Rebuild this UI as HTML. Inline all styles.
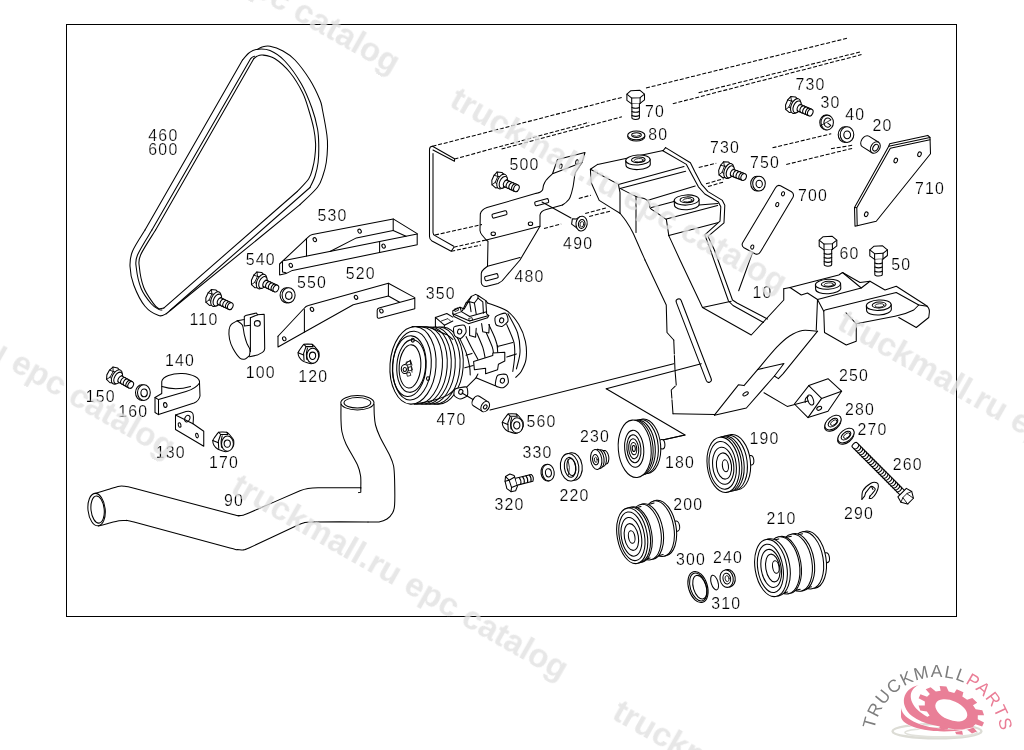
<!DOCTYPE html>
<html><head><meta charset="utf-8"><title>EPC catalog</title>
<style>
html,body{margin:0;padding:0;background:#fff;}
body{width:1024px;height:750px;overflow:hidden;font-family:"Liberation Sans",sans-serif;}
svg{display:block;}
.k path,.k line,.k ellipse,.k polygon,.k rect,.k circle{fill:none;stroke:#000;stroke-width:1.05;stroke-linecap:round;stroke-linejoin:round;}
.k .w{fill:#fff;}
.k .d{stroke-dasharray:4 1.8;stroke-linecap:butt;}
.k .t{stroke-width:.8;}
.lb text{font-family:"Liberation Sans",sans-serif;font-size:15.9px;letter-spacing:1.25px;fill:#000;stroke:#fff;stroke-width:0.22px;}
.wm text{text-rendering:geometricPrecision;font-family:"Liberation Sans",sans-serif;font-weight:bold;font-size:33px;fill:#e1e1e1;}
</style></head><body>
<svg width="1024" height="750" viewBox="0 0 1024 750">
<rect width="1024" height="750" fill="#fff"/>
<!-- 00_open.py -->
<g class="k">
<rect x="66.5" y="24.5" width="890" height="592" style="stroke-width:1" shape-rendering="crispEdges"/>
<!-- 05_syms.py -->
<!-- 10_belt.py -->
<path d="M145,230 L242.5,60"/>
<path d="M242.50,60.00 C243.58,58.83 246.71,54.77 249.00,53.00 C251.29,51.23 252.75,49.80 256.25,49.40 C259.75,49.00 265.21,48.62 270.00,50.60 C274.79,52.58 279.79,55.73 285.00,61.25 C290.21,66.78 296.77,75.96 301.25,83.75 C305.73,91.54 309.19,100.50 311.90,108.00 C314.61,115.50 316.36,122.58 317.50,128.75 C318.64,134.92 318.65,139.38 318.75,145.00 C318.85,150.62 318.73,157.29 318.10,162.50 C317.48,167.71 316.35,172.08 315.00,176.25 C313.65,180.42 310.83,185.62 310.00,187.50"/>
<path d="M310,187.5 L170,310.5"/>
<path d="M145.00,230.00 C142.92,233.54 135.00,245.21 132.50,251.25 C130.00,257.29 129.79,260.62 130.00,266.25 C130.21,271.88 131.25,278.33 133.75,285.00 C136.25,291.67 140.83,301.15 145.00,306.25 C149.17,311.35 155.21,314.35 158.75,315.60 C162.29,316.85 165.00,314.06 166.25,313.75"/>
<path d="M166.25,313.75 L300,204.7"/>
<path d="M300.00,204.70 C302.92,201.78 313.65,192.15 317.50,187.20 C321.35,182.25 321.64,179.12 323.10,175.00 C324.56,170.88 325.52,167.08 326.25,162.50 C326.98,157.92 327.39,152.08 327.50,147.50 C327.61,142.92 327.73,141.25 326.90,135.00 C326.07,128.75 323.65,115.83 322.50,110.00 C321.35,104.17 322.08,105.00 320.00,100.00 C317.92,95.00 314.17,86.67 310.00,80.00 C305.83,73.33 299.50,64.83 295.00,60.00 C290.50,55.17 287.17,53.29 283.00,51.00 C278.83,48.71 273.50,46.92 270.00,46.25 C266.50,45.58 264.08,46.48 262.00,47.00 C259.92,47.52 258.25,49.00 257.50,49.40"/>
<path d="M253.75,58.75 C254.29,58.34 255.54,56.92 257.00,56.30 C258.46,55.67 259.50,54.59 262.50,55.00 C265.50,55.41 270.42,55.83 275.00,58.75 C279.58,61.67 285.42,66.88 290.00,72.50 C294.58,78.12 299.38,86.25 302.50,92.50 C305.62,98.75 306.88,103.96 308.75,110.00 C310.62,116.04 312.61,123.12 313.75,128.75 C314.89,134.38 315.43,138.96 315.60,143.75 C315.77,148.54 315.27,153.33 314.75,157.50 C314.23,161.67 313.50,165.21 312.50,168.75 C311.50,172.29 311.25,175.00 308.75,178.75 C306.25,182.50 299.38,189.17 297.50,191.25"/>
<path d="M297.5,191.25 L163.75,308.1"/>
<path d="M163.75,308.10 C162.88,308.17 160.28,309.33 158.50,308.50 C156.72,307.67 155.56,306.60 153.10,303.10 C150.64,299.60 146.03,293.43 143.75,287.50 C141.47,281.57 139.93,272.92 139.40,267.50 C138.88,262.08 137.90,261.25 140.60,255.00 C143.30,248.75 153.10,234.17 155.60,230.00"/>
<path d="M155.6,230 L253.75,58.75"/>
<path d="M162.00,310.00 C161.46,309.90 160.54,310.44 158.75,309.40 C156.96,308.36 154.17,307.19 151.25,303.75 C148.33,300.31 143.75,294.79 141.25,288.75 C138.75,282.71 136.88,273.12 136.25,267.50 C135.62,261.88 134.89,261.25 137.50,255.00 C140.11,248.75 149.50,234.17 151.90,230.00"/>
<path d="M151.9,230 L250.7,58.6 Q252,56.6 254.6,56.2"/>
<!-- 20_brackets.py -->
<path d="M279.6,264 L308.4,236.8 Q310,234.9 312.4,234.4 L393.2,218.9 L417.2,233.6 L417.2,244.8 L292.4,270.4 L286,273.6 L279.6,274.9Z"/>
<path d="M282.5,261.6 L282.5,272 L286,272.8"/>
<path d="M284.4,260.5 L417.2,234.1"/>
<path d="M393.2,218.9 L393.2,230.4 L406,236.3"/>
<path d="M393.2,230.4 L356.4,237.9 L330,251.5"/>
<path d="M379.6,241.6 L379.6,252.5"/>
<path d="M306.5,238.4 L306.5,256"/>
<ellipse cx="314.80" cy="239.70" rx="1.61" ry="2.09" transform="rotate(-25.0 314.80 239.70)"/>
<ellipse cx="359.60" cy="231.20" rx="1.61" ry="2.09" transform="rotate(-25.0 359.60 231.20)"/>
<ellipse cx="290.80" cy="265.30" rx="1.61" ry="2.09" transform="rotate(-25.0 290.80 265.30)"/>
<ellipse cx="383.60" cy="246.10" rx="1.61" ry="2.09" transform="rotate(-25.0 383.60 246.10)"/>
<path d="M278,336.25 L303.75,308.75 Q306,306 308.4,305.6 L388.4,283.2 L414.8,297.6 L414.8,308.8 L379,318.2 Q377.2,318.6 377.2,316.5 L377.2,310.2 Q377.2,308.6 379,308 L414.8,298.2"/>
<path d="M388.4,296 L353.2,304.8 L303.75,332.5 L278,347 L278,336.25"/>
<path d="M388.4,283.2 L388.4,296 L399.6,302.2"/>
<path d="M304.4,309.5 L304.4,332"/>
<ellipse cx="284.25" cy="338.75" rx="1.61" ry="2.09" transform="rotate(-25.0 284.25 338.75)"/>
<ellipse cx="312.00" cy="309.40" rx="1.61" ry="2.09" transform="rotate(-25.0 312.00 309.40)"/>
<ellipse cx="356.00" cy="297.30" rx="1.61" ry="2.09" transform="rotate(-25.0 356.00 297.30)"/>
<ellipse cx="381.40" cy="311.00" rx="1.61" ry="2.09" transform="rotate(-25.0 381.40 311.00)"/>
<g transform="translate(258.60 280.20) rotate(25.0) scale(1.000)"><path d="M-6.5,-2.5 L-5,-6.8 L-0.5,-8.3 L3,-7 L3,6.6 L0,8.4 L-4.6,7 L-6.5,3Z" class="w"/><path d="M-5,-6.8 L-2.6,-3 L-2.6,3.6 L-4.6,7 M-2.6,-3 L3,-4.6 M-2.6,3.6 L3,5 M-6.5,-2.5 L-2.6,-3" class="t"/><ellipse cx="3.20" cy="0.00" rx="4.50" ry="7.80" class="w"/><ellipse cx="4.90" cy="0.20" rx="3.70" ry="6.30" class="w"/><path d="M6.5,-3.3 L19.2,-3.3 M6.5,3.8 L19.2,3.8"/><ellipse cx="8.00" cy="0.25" rx="2.60" ry="3.60" class="w"/><ellipse cx="11.03" cy="0.25" rx="2.60" ry="3.60" class="w"/><ellipse cx="14.05" cy="0.25" rx="2.60" ry="3.60" class="w"/><ellipse cx="17.07" cy="0.25" rx="2.60" ry="3.60" class="w"/><ellipse cx="19.20" cy="0.25" rx="2.60" ry="3.60" class="w"/></g>
<g transform="translate(213.00 297.80) rotate(25.0) scale(1.000)"><path d="M-6.5,-2.5 L-5,-6.8 L-0.5,-8.3 L3,-7 L3,6.6 L0,8.4 L-4.6,7 L-6.5,3Z" class="w"/><path d="M-5,-6.8 L-2.6,-3 L-2.6,3.6 L-4.6,7 M-2.6,-3 L3,-4.6 M-2.6,3.6 L3,5 M-6.5,-2.5 L-2.6,-3" class="t"/><ellipse cx="3.20" cy="0.00" rx="4.50" ry="7.80" class="w"/><ellipse cx="4.90" cy="0.20" rx="3.70" ry="6.30" class="w"/><path d="M6.5,-3.3 L19.2,-3.3 M6.5,3.8 L19.2,3.8"/><ellipse cx="8.00" cy="0.25" rx="2.60" ry="3.60" class="w"/><ellipse cx="11.03" cy="0.25" rx="2.60" ry="3.60" class="w"/><ellipse cx="14.05" cy="0.25" rx="2.60" ry="3.60" class="w"/><ellipse cx="17.07" cy="0.25" rx="2.60" ry="3.60" class="w"/><ellipse cx="19.20" cy="0.25" rx="2.60" ry="3.60" class="w"/></g>
<g transform="translate(288.60 295.30) rotate(0.0)"><ellipse cx="-2.00" cy="0.00" rx="6.50" ry="7.60" class="w"/><ellipse cx="0.00" cy="0.00" rx="6.50" ry="7.60" class="w"/><ellipse cx="0.20" cy="0.30" rx="3.25" ry="3.80"/></g>
<g transform="translate(308.50 353.70) rotate(0.0)"><path d="M-10.40,-1.04 C-10.37,-1.60 -9.28,-3.22 -8.84,-3.85 C-8.40,-4.47 -5.40,-8.95 -4.47,-9.36 C-3.54,-9.77 2.73,-9.53 3.54,-9.36 C4.34,-9.19 5.73,-7.66 6.24,-7.07 C6.75,-6.48 10.09,-2.26 10.40,-1.46 C10.71,-0.65 10.65,2.95 10.40,3.64 C10.15,4.33 7.65,7.21 7.07,7.70 C6.49,8.18 3.62,10.09 2.70,10.09 C1.78,10.09 -4.30,8.18 -5.20,7.70 C-6.10,7.21 -8.87,4.30 -9.26,3.64 C-9.65,2.98 -10.43,-0.48 -10.40,-1.04Z" class="w"/><path d="M-4.47,-9.36 L-2.50,-7.07 L4.68,-7.07 L3.54,-9.36"/><path d="M-2.50,-7.07 L-4.89,-0.31 L-4.47,6.86"/><path d="M-10.40,-1.04 L-4.89,1.25"/><path d="M-1.04,-5.72 C-1.21,-4.77 -1.98,-1.91 -2.08,0.00 C-2.18,1.91 -1.73,4.77 -1.66,5.72"/><ellipse cx="4.26" cy="2.08" rx="5.93" ry="7.59" class="w"/><ellipse cx="4.06" cy="2.08" rx="3.12" ry="3.64"/></g>
<path d="M237.30,320.80 C236.40,321.32 232.53,323.00 231.30,324.30 C230.07,325.61 229.37,327.30 229.10,329.50 C228.83,331.70 228.91,336.13 229.50,339.00 C230.09,341.87 231.44,345.74 233.00,348.60 C234.56,351.47 238.07,356.54 239.90,358.10 C241.73,359.66 243.89,359.25 245.20,359.00 C246.50,358.75 248.09,356.79 248.60,356.40"/>
<path d="M237.30,320.80 C237.99,321.39 241.57,323.35 242.50,325.20 C243.43,327.05 243.71,332.27 244.30,334.70 C244.89,337.13 246.15,341.44 246.90,343.40 C247.65,345.36 249.55,347.79 249.90,349.40 C250.25,351.01 249.67,354.57 249.50,355.50 C249.33,356.43 248.72,356.28 248.60,356.40"/>
<path d="M237.3,320.8 L244.3,319.5 L244.3,316.5 L245.6,315.6 L256.4,313 L257.7,314.7 L250.4,317.8"/>
<path d="M257.3,314.7 L264.2,314.3 L264.7,348.6 Q264.5,351 262.5,352.4 L257.3,355.1 L249.5,356.8"/>
<path d="M250.4,317.8 L250.4,351.4"/>
<path d="M244.3,319.5 L244.3,326 L250.4,325.2"/>
<ellipse cx="257.30" cy="323.40" rx="3.00" ry="2.80"/>
<!-- 25_clamp_hose.py -->
<path d="M161.75,393.5 L161.75,381.5 A18.9,8.8 0 0 1 199.5,383 L200,396 Q199,401 194,403 L158.5,414.6 L155,412.5 L155,397.5 L161.75,393.5"/>
<path d="M155,397.5 L158.5,399.6 L158.5,414.6 M158.5,399.6 L186,391.5 Q196,388.5 199.5,383"/>
<path d="M162,386.6 Q176,391 190.5,386.4"/>
<ellipse cx="165.30" cy="405.00" rx="1.70" ry="2.40" transform="rotate(-10.0 165.30 405.00)"/>
<path d="M175.5,415 L186,411.6 Q190.5,410.5 192.5,413 Q194,415 193,423.75 L203.75,431.25 L203.75,446.25 L175.5,429.5Z"/>
<path d="M175.5,415 L193,423.75"/>
<ellipse cx="187.30" cy="418.60" rx="2.40" ry="3.40" transform="rotate(25.0 187.30 418.60)"/>
<ellipse cx="179.60" cy="425.00" rx="1.30" ry="2.30" transform="rotate(-15.0 179.60 425.00)"/>
<ellipse cx="197.00" cy="435.60" rx="1.30" ry="2.30" transform="rotate(-15.0 197.00 435.60)"/>
<g transform="translate(114.00 375.40) rotate(29.0) scale(1.000)"><path d="M-6.5,-2.5 L-5,-6.8 L-0.5,-8.3 L3,-7 L3,6.6 L0,8.4 L-4.6,7 L-6.5,3Z" class="w"/><path d="M-5,-6.8 L-2.6,-3 L-2.6,3.6 L-4.6,7 M-2.6,-3 L3,-4.6 M-2.6,3.6 L3,5 M-6.5,-2.5 L-2.6,-3" class="t"/><ellipse cx="3.20" cy="0.00" rx="4.50" ry="7.80" class="w"/><ellipse cx="4.90" cy="0.20" rx="3.70" ry="6.30" class="w"/><path d="M6.5,-3.3 L19.2,-3.3 M6.5,3.8 L19.2,3.8"/><ellipse cx="8.00" cy="0.25" rx="2.60" ry="3.60" class="w"/><ellipse cx="11.03" cy="0.25" rx="2.60" ry="3.60" class="w"/><ellipse cx="14.05" cy="0.25" rx="2.60" ry="3.60" class="w"/><ellipse cx="17.07" cy="0.25" rx="2.60" ry="3.60" class="w"/><ellipse cx="19.20" cy="0.25" rx="2.60" ry="3.60" class="w"/></g>
<g transform="translate(143.90 392.60) rotate(0.0)"><ellipse cx="-2.00" cy="0.00" rx="6.40" ry="7.80" class="w"/><ellipse cx="0.00" cy="0.00" rx="6.40" ry="7.80" class="w"/><ellipse cx="0.20" cy="0.30" rx="3.20" ry="3.90"/></g>
<g transform="translate(223.20 441.60) rotate(0.0)"><path d="M-10.40,-1.04 C-10.37,-1.60 -9.28,-3.22 -8.84,-3.85 C-8.40,-4.47 -5.40,-8.95 -4.47,-9.36 C-3.54,-9.77 2.73,-9.53 3.54,-9.36 C4.34,-9.19 5.73,-7.66 6.24,-7.07 C6.75,-6.48 10.09,-2.26 10.40,-1.46 C10.71,-0.65 10.65,2.95 10.40,3.64 C10.15,4.33 7.65,7.21 7.07,7.70 C6.49,8.18 3.62,10.09 2.70,10.09 C1.78,10.09 -4.30,8.18 -5.20,7.70 C-6.10,7.21 -8.87,4.30 -9.26,3.64 C-9.65,2.98 -10.43,-0.48 -10.40,-1.04Z" class="w"/><path d="M-4.47,-9.36 L-2.50,-7.07 L4.68,-7.07 L3.54,-9.36"/><path d="M-2.50,-7.07 L-4.89,-0.31 L-4.47,6.86"/><path d="M-10.40,-1.04 L-4.89,1.25"/><path d="M-1.04,-5.72 C-1.21,-4.77 -1.98,-1.91 -2.08,0.00 C-2.18,1.91 -1.73,4.77 -1.66,5.72"/><ellipse cx="4.26" cy="2.08" rx="5.93" ry="7.59" class="w"/><ellipse cx="4.06" cy="2.08" rx="3.12" ry="3.64"/></g>
<path d="M94.80,493.50 C96.12,493.10 105.68,490.21 108.00,489.50 C110.32,488.79 116.40,486.73 118.00,486.40 C119.60,486.07 122.30,485.99 124.00,486.20 C125.70,486.41 124.10,485.67 135.00,488.50 C145.90,491.33 222.70,511.79 233.00,514.50 C243.30,517.21 237.00,515.53 238.00,515.60 C239.00,515.67 241.80,515.51 243.00,515.20 C244.20,514.89 244.30,514.94 250.00,512.50 C255.70,510.06 294.20,493.19 300.00,490.80 C305.80,488.41 306.20,488.90 308.00,488.60 C309.80,488.30 312.72,487.88 318.00,487.80 C323.28,487.72 356.52,487.80 360.80,487.80"/>
<path d="M360.8,487.8 L360.8,492.2 L358.6,492.6"/>
<path d="M360.80,488.00 C360.77,486.20 361.10,479.45 360.60,476.00 C360.11,472.55 359.69,469.80 357.50,465.00 C355.31,460.20 348.32,448.95 346.00,444.00 C343.68,439.05 342.75,435.60 342.00,432.00 C341.25,428.40 341.15,424.15 341.00,420.00 C340.85,415.85 341.00,406.66 341.00,404.30"/>
<ellipse cx="357.40" cy="402.80" rx="16.60" ry="7.20"/>
<ellipse cx="357.40" cy="402.80" rx="13.40" ry="5.20"/>
<path d="M374.00,404.30 C374.05,405.91 374.07,411.89 374.30,415.00 C374.53,418.11 374.64,421.70 375.50,425.00 C376.36,428.30 377.82,432.35 380.00,437.00 C382.18,441.65 387.96,451.65 390.00,456.00 C392.04,460.35 392.91,462.40 393.60,466.00 C394.29,469.60 394.45,474.15 394.60,480.00 C394.75,485.85 394.92,500.05 394.60,505.00 C394.29,509.95 393.64,510.90 392.50,513.00 C391.36,515.10 389.02,517.66 387.00,519.00 C384.98,520.34 381.85,521.47 379.00,521.90 C376.15,522.33 369.65,521.90 368.00,521.90"/>
<path d="M368.00,521.90 C362.40,521.90 318.40,521.81 312.00,521.90 C305.60,521.99 305.50,522.44 304.00,522.80 C302.50,523.16 302.50,522.98 297.00,525.50 C291.50,528.02 254.40,545.56 249.00,548.00 C243.60,550.44 244.20,549.74 243.00,549.90 C241.80,550.06 238.30,549.79 237.00,549.60 C235.70,549.41 240.30,550.76 230.00,548.00 C219.70,545.24 144.40,524.74 134.00,522.00 C123.60,519.26 127.50,520.72 126.00,520.60 C124.50,520.48 120.80,520.51 119.00,520.80 C117.20,521.09 110.05,522.98 108.00,523.50 C105.95,524.02 99.45,525.75 98.50,526.00"/>
<ellipse cx="96.60" cy="509.60" rx="8.60" ry="16.30" transform="rotate(-6.0 96.60 509.60)"/>
<ellipse cx="97.60" cy="509.60" rx="6.60" ry="13.60" transform="rotate(-6.0 97.60 509.60)"/>
<!-- 30_beam.py -->
<path d="M432.5,146.3 L622.5,97.2" class="d"/>
<path d="M646,88 L848,38" class="d"/>
<path d="M454.5,159 L589.1,122.3" class="d"/>
<path d="M672.8,103.8 L861.5,54.6" class="d"/>
<path d="M698.6,92.8 L861.5,51.6" class="d"/>
<path d="M501.6,149 L621.9,116.8" class="d"/>
<path d="M432.5,146.3 Q429.5,146.5 429.5,149.5 L429.5,236.5 Q429.5,239.5 432,241 L451.25,251.25 L453.75,247.5"/>
<path d="M433,153.5 L433,232.5 Q433,234.5 435,235.6 L453.75,246.25"/>
<path d="M432.5,146.3 L454.5,158.75 L454.5,161.25 M433,150 L454.5,161.25"/>
<path d="M435,235 L482,224.5" class="d"/>
<path d="M453.75,247.2 L486,240" class="d"/>
<path d="M451.25,251.25 L481,245" class="d"/>
<path d="M544,228.4 L561.2,224" class="d"/>
<path d="M585.2,213.6 L606,208" class="d"/>
<path d="M589.2,216.4 L610,211.2" class="d"/>
<path d="M578.8,198.4 L590.8,195.2" class="d"/>
<path d="M698.75,167.5 L716.25,163.25" class="d"/>
<path d="M706,183.75 L723.75,178.75" class="d"/>
<path d="M708,186.5 L724,182" class="d"/>
<path d="M772.5,147.8 L831.25,133.75" class="d"/>
<path d="M786.25,164.5 L853.75,148" class="d"/>
<path d="M831,148.75 L853.75,145" class="d"/>
<g transform="translate(635.70 89.80)"><path d="M-8.8,4.4 L-8.8,10.5 L-4,14 L4.4,13.6 L8.8,10.1 L8.8,4.4" class="w"/><path d="M-8.8,4.4 L-4.8,0.9 L4,0.4 L8.8,4.4 L4.4,7.9 L-4,8.3Z" class="w"/><path d="M-4,8.3 L-4,14 M4.4,7.9 L4.4,13.6"/><path d="M-3.8,14 L-3.8,28.0 Q-3.8,29.6 0,29.6 Q3.7,29.6 3.7,28.0 L3.7,13.8" class="w"/><path d="M-3.8,17.6 Q0,19.2 3.7,17.6"/><path d="M-3.8,21.7 Q0,23.3 3.7,21.7"/><path d="M-3.8,25.8 Q0,27.4 3.7,25.8"/></g>
<g transform="translate(636.3 135.3)"><ellipse cx="0.00" cy="1.30" rx="8.60" ry="4.40" class="w"/><ellipse cx="0.00" cy="0.00" rx="8.60" ry="4.40" class="w"/><ellipse cx="0.20" cy="-0.20" rx="4.80" ry="2.30"/><path d="M-3,0.4 Q0,2 3.4,0.2" class="t"/></g>
<g transform="translate(499.00 180.20) rotate(24.0) scale(1.000)"><path d="M-6.5,-2.5 L-5,-6.8 L-0.5,-8.3 L3,-7 L3,6.6 L0,8.4 L-4.6,7 L-6.5,3Z" class="w"/><path d="M-5,-6.8 L-2.6,-3 L-2.6,3.6 L-4.6,7 M-2.6,-3 L3,-4.6 M-2.6,3.6 L3,5 M-6.5,-2.5 L-2.6,-3" class="t"/><ellipse cx="3.20" cy="0.00" rx="4.50" ry="7.80" class="w"/><ellipse cx="4.90" cy="0.20" rx="3.70" ry="6.30" class="w"/><path d="M6.5,-3.3 L19.2,-3.3 M6.5,3.8 L19.2,3.8"/><ellipse cx="8.00" cy="0.25" rx="2.60" ry="3.60" class="w"/><ellipse cx="11.03" cy="0.25" rx="2.60" ry="3.60" class="w"/><ellipse cx="14.05" cy="0.25" rx="2.60" ry="3.60" class="w"/><ellipse cx="17.07" cy="0.25" rx="2.60" ry="3.60" class="w"/><ellipse cx="19.20" cy="0.25" rx="2.60" ry="3.60" class="w"/></g>
<path d="M557.5,159.5 L585,152.5 L582,162.5 L552.5,173.75Z"/>
<ellipse cx="560.75" cy="166.25" rx="1.30" ry="2.20" transform="rotate(15.0 560.75 166.25)"/>
<ellipse cx="577.00" cy="162.00" rx="1.30" ry="2.20" transform="rotate(15.0 577.00 162.00)"/>
<path d="M552.50,173.75 C551.67,174.58 547.44,178.50 546.25,180.00 C545.06,181.50 544.10,183.67 543.60,185.00 C543.10,186.33 542.98,189.03 542.50,190.00 C542.02,190.97 540.83,191.86 540.00,192.30 C539.17,192.74 536.75,193.17 536.25,193.30"/>
<path d="M536.25,193.3 L487,207.6 Q481.5,209.5 480.3,214 L480,230.5 Q480.3,233 482,235 L486.25,240 L488,241.25 L487.5,266.25"/>
<path d="M582.00,162.50 C581.33,163.50 577.93,168.47 577.00,170.00 C576.07,171.53 575.53,171.73 575.00,174.00 C574.47,176.27 573.67,183.87 573.00,187.00 C572.33,190.13 570.87,195.50 570.00,197.50 C569.13,199.50 567.50,201.00 566.50,202.00 C565.50,203.00 563.03,204.60 562.50,205.00"/>
<path d="M562.5,205 L546.25,209.5 Q540.5,211 540,215 L540,226.25 L520,260 L505,277.5 Q502.5,281.5 498,283.5 L486,286.5 Q482,286.6 481.25,282.5 L481.25,273.5 Q481.5,271 484,269 L487.5,266.25 L520,257.5"/>
<path d="M486.25,240 L540,226.25"/>
<g transform="translate(499.50 214.40) rotate(-15.0)"><rect x="-7.50" y="-2.10" width="15.00" height="4.20" rx="1.3"/></g>
<g transform="translate(541.70 202.20) rotate(-15.0)"><rect x="-7.00" y="-2.10" width="14.00" height="4.20" rx="1.3"/></g>
<g transform="translate(491.40 277.20) rotate(-15.0)"><rect x="-6.75" y="-2.20" width="13.50" height="4.40" rx="1.3"/></g>
<ellipse cx="493.25" cy="233.75" rx="2.20" ry="1.80"/>
<ellipse cx="530.50" cy="223.75" rx="2.20" ry="1.80"/>
<path d="M542,202 L571,218"/>
<g transform="translate(580.4 223.4) rotate(8)"><path d="M-8.6,-3.4 L-4.6,-3.8 L-1,-6.8 L1,7 L-8.6,2Z" class="w"/><ellipse cx="1.20" cy="0.00" rx="5.60" ry="7.40" class="w"/><ellipse cx="1.40" cy="0.40" rx="3.30" ry="4.50"/><ellipse cx="1.60" cy="0.60" rx="1.90" ry="2.70" class="t"/></g>
<!-- 35_bracket10.py -->
<path d="M597.6,164.4 L590.4,169.2 L591.2,182.8 L599.2,200.4 L612,208.4 L620,213.2"/>
<path d="M597.6,164.4 L663.2,150.5"/>
<path d="M590.4,169.2 L618.4,184.4 L684,166.5"/>
<path d="M620,188.4 L685.6,171.3"/>
<path d="M618.4,184.4 L620,192.4 L620,213.2"/>
<path d="M620.00,188.40 C621.87,189.33 633.20,195.21 636.00,196.40 C638.80,197.59 642.69,198.13 644.00,198.60 C645.31,199.07 646.56,199.71 647.20,200.40 C647.84,201.09 649.13,203.57 649.50,204.50 C649.87,205.43 649.41,207.34 650.40,208.40 C651.39,209.46 656.13,212.29 658.00,213.60 C659.87,214.91 665.42,218.90 666.40,219.60"/>
<path d="M666.4,219.6 L668.8,235.6"/>
<path d="M636,196.4 L636,232.4"/>
<path d="M647.2,200.4 L695.2,186"/>
<path d="M652,206.8 L717.6,204" style="display:none"/>
<path d="M651.5,207.5 L674,201.5 M699,205 L718,203.5"/>
<path d="M666.4,219 L717.6,205.4"/>
<path d="M668.8,235.6 L717.6,222.8"/>
<path d="M620.00,213.20 C620.60,213.98 624.72,219.08 626.00,221.00 C627.28,222.92 630.90,228.50 632.80,232.40 C634.70,236.30 643.78,257.24 645.00,260.00"/>
<path d="M645,260 L666.25,305 L667,332.5 L673.75,340"/>
<path d="M673.75,340 L675,370 L676.25,385 L671.25,390 L673,413.75" stroke-dasharray="14 1.5"/>
<path d="M673,413.75 L715,414.5"/>
<path d="M668.8,235.6 L680,260 L702.5,307.5 L731.25,301.25"/>
<path d="M702.5,307.5 L751.25,335 L783.75,300 L783.75,288.75"/>
<g transform="translate(693.75 340.6) rotate(69)"><rect x="-44.5" y="-2.6" width="89" height="5.2" rx="2.6"/></g>
<path d="M663.2,150.5 L665.6,147.6"/>
<path d="M665.60,147.60 L690.40,162.80 L695.00,172.00 L701.60,184.40 L708.00,191.60 L722.40,200.40 L724.80,205.20 L724.00,222.80 L708.00,236.40 L714.40,250.00 L732.50,300.00 L737.00,303.00 L767.50,319.00" stroke-linejoin="round"/>
<path d="M662.40,150.50 L686.40,164.40 L691.50,174.00 L698.40,186.80 L704.80,194.00 L718.40,202.00 L720.80,206.80 L720.00,221.20 L704.80,234.80 L710.40,250.00 L728.50,301.00 L733.00,305.50 L763.50,322.50" stroke-linejoin="round"/>
<path d="M738.7,290.7 L752.6,252.4"/>
<path d="M490,410 L673.75,363.75"/>
<path d="M606.25,388.75 L701.25,363.75"/>
<path d="M606.25,388.75 L685,435 L662.5,440"/>
<path d="M817.60,331.20 C815.32,331.08 806.60,329.68 802.40,330.40 C798.20,331.12 793.44,333.48 789.60,336.00 C785.76,338.52 781.60,342.16 776.80,347.20 C772.00,352.24 760.48,366.24 757.60,369.60"/>
<path d="M757.6,369.6 L744,385.6 L738.4,384.8 L714.4,415.2"/>
<path d="M817.6,331.2 L783.2,373.6 L778.4,378.6 L774.4,376 L746.4,408 L714.4,415.2"/>
<path d="M757.6,369.6 L784,363.5 L774.4,376"/>
<ellipse cx="745.60" cy="393.90" rx="3.00" ry="1.50" transform="rotate(-32.0 745.60 393.90)"/>
<path d="M783.75,288.75 L790,287.5 L801.25,295 L807.5,293 L817.5,299.5 L816.25,330"/>
<path d="M790,287.5 L838.75,275 L842.5,272.5 L860,282.5 L870,281.25 L885,290 L896.25,286.25 L925.5,305 Q929.6,307.5 929.4,312 L928.75,317.5 L916.25,327.5 L898.75,317.5"/>
<path d="M817.5,299.5 L861.25,288"/>
<path d="M842.5,272.5 L861.25,288 L870,281.25"/>
<path d="M817.5,299.5 L823.75,311.25 L825,310 L896.25,292.5 L918.75,305 L913.75,310 Q905,314.5 895,316.25 L856.25,323.75"/>
<path d="M823.75,311.25 L824.5,332.5 L846.25,345 L856.25,341.25 L856.25,323.75 L846,312.8"/>
<path d="M918.75,305 L927.5,306.25"/>
<g transform="translate(637.90 160.00) rotate(-3)"><path d="M-12.20,0 L-12.20,4.60 A12.20,5.00 0 0 0 12.20,4.60 L12.20,0" class="w"/><ellipse cx="0.00" cy="0.00" rx="12.20" ry="5.00" class="w"/><ellipse cx="0.40" cy="-0.20" rx="6.83" ry="2.80"/><ellipse cx="0.80" cy="0.30" rx="4.39" ry="1.70" class="t"/></g>
<g transform="translate(686.60 200.00) rotate(-3)"><path d="M-12.40,0 L-12.40,4.60 A12.40,5.10 0 0 0 12.40,4.60 L12.40,0" class="w"/><ellipse cx="0.00" cy="0.00" rx="12.40" ry="5.10" class="w"/><ellipse cx="0.40" cy="-0.20" rx="6.94" ry="2.86"/><ellipse cx="0.80" cy="0.30" rx="4.46" ry="1.73" class="t"/></g>
<g transform="translate(828.00 284.30) rotate(-3)"><path d="M-12.60,0 L-12.60,4.40 A12.60,5.00 0 0 0 12.60,4.40 L12.60,0" class="w"/><ellipse cx="0.00" cy="0.00" rx="12.60" ry="5.00" class="w"/><ellipse cx="0.40" cy="-0.20" rx="7.06" ry="2.80"/><ellipse cx="0.80" cy="0.30" rx="4.54" ry="1.70" class="t"/></g>
<g transform="translate(878.75 305.20) rotate(-3)"><path d="M-12.40,0 L-12.40,4.60 A12.40,5.20 0 0 0 12.40,4.60 L12.40,0" class="w"/><ellipse cx="0.00" cy="0.00" rx="12.40" ry="5.20" class="w"/><ellipse cx="0.40" cy="-0.20" rx="6.94" ry="2.91"/><ellipse cx="0.80" cy="0.30" rx="4.46" ry="1.77" class="t"/></g>
<g transform="translate(828.00 235.80)"><path d="M-8.8,4.4 L-8.8,10.5 L-4,14 L4.4,13.6 L8.8,10.1 L8.8,4.4" class="w"/><path d="M-8.8,4.4 L-4.8,0.9 L4,0.4 L8.8,4.4 L4.4,7.9 L-4,8.3Z" class="w"/><path d="M-4,8.3 L-4,14 M4.4,7.9 L4.4,13.6"/><path d="M-3.8,14 L-3.8,28.8 Q-3.8,30.4 0,30.4 Q3.7,30.4 3.7,28.8 L3.7,13.8" class="w"/><path d="M-3.8,17.6 Q0,19.2 3.7,17.6"/><path d="M-3.8,21.7 Q0,23.3 3.7,21.7"/><path d="M-3.8,25.8 Q0,27.4 3.7,25.8"/></g>
<g transform="translate(878.60 245.40)"><path d="M-8.8,4.4 L-8.8,10.5 L-4,14 L4.4,13.6 L8.8,10.1 L8.8,4.4" class="w"/><path d="M-8.8,4.4 L-4.8,0.9 L4,0.4 L8.8,4.4 L4.4,7.9 L-4,8.3Z" class="w"/><path d="M-4,8.3 L-4,14 M4.4,7.9 L4.4,13.6"/><path d="M-3.8,14 L-3.8,29.0 Q-3.8,30.6 0,30.6 Q3.7,30.6 3.7,29.0 L3.7,13.8" class="w"/><path d="M-3.8,17.6 Q0,19.2 3.7,17.6"/><path d="M-3.8,21.7 Q0,23.3 3.7,21.7"/><path d="M-3.8,25.8 Q0,27.4 3.7,25.8"/></g>
<!-- 40_right.py -->
<g transform="translate(1 0.8)">
<path d="M779.5,185 L790.5,191 Q793.5,193 792,196.5 L759.5,251 Q757.5,254.6 754,253 L743,247 Q740,245 741.8,241.8 L774.5,187 Q776.5,183.6 779.5,185Z"/>
<ellipse cx="782.00" cy="193.00" rx="1.50" ry="2.10" transform="rotate(20.0 782.00 193.00)"/>
<ellipse cx="776.25" cy="203.75" rx="1.50" ry="2.10" transform="rotate(20.0 776.25 203.75)"/>
<ellipse cx="751.25" cy="246.25" rx="1.50" ry="2.10" transform="rotate(20.0 751.25 246.25)"/>
</g>
<path d="M888.75,146.25 L930,137.5 L930.5,153.75 L876.25,221.25 L855,226.25 L854.5,207.5Z"/>
<path d="M888.75,146.25 L889.6,143.8 L927.8,135.4 L930,137.5 M854.5,207.5 L856.8,207.8 L890.3,148.2 L930,139.8 M856.8,207.8 L857.2,225.6"/>
<ellipse cx="895.75" cy="160.50" rx="1.70" ry="2.40" transform="rotate(20.0 895.75 160.50)"/>
<ellipse cx="919.50" cy="154.25" rx="1.70" ry="2.40" transform="rotate(20.0 919.50 154.25)"/>
<ellipse cx="866.25" cy="214.25" rx="1.70" ry="2.40" transform="rotate(20.0 866.25 214.25)"/>
<g transform="translate(792.70 104.80) rotate(23.0) scale(1.000)"><path d="M-6.5,-2.5 L-5,-6.8 L-0.5,-8.3 L3,-7 L3,6.6 L0,8.4 L-4.6,7 L-6.5,3Z" class="w"/><path d="M-5,-6.8 L-2.6,-3 L-2.6,3.6 L-4.6,7 M-2.6,-3 L3,-4.6 M-2.6,3.6 L3,5 M-6.5,-2.5 L-2.6,-3" class="t"/><ellipse cx="3.20" cy="0.00" rx="4.50" ry="7.80" class="w"/><ellipse cx="4.90" cy="0.20" rx="3.70" ry="6.30" class="w"/><path d="M6.5,-3.3 L19.2,-3.3 M6.5,3.8 L19.2,3.8"/><ellipse cx="8.00" cy="0.25" rx="2.60" ry="3.60" class="w"/><ellipse cx="11.03" cy="0.25" rx="2.60" ry="3.60" class="w"/><ellipse cx="14.05" cy="0.25" rx="2.60" ry="3.60" class="w"/><ellipse cx="17.07" cy="0.25" rx="2.60" ry="3.60" class="w"/><ellipse cx="19.20" cy="0.25" rx="2.60" ry="3.60" class="w"/></g>
<g transform="translate(725.80 169.90) rotate(21.0) scale(1.000)"><path d="M-6.5,-2.5 L-5,-6.8 L-0.5,-8.3 L3,-7 L3,6.6 L0,8.4 L-4.6,7 L-6.5,3Z" class="w"/><path d="M-5,-6.8 L-2.6,-3 L-2.6,3.6 L-4.6,7 M-2.6,-3 L3,-4.6 M-2.6,3.6 L3,5 M-6.5,-2.5 L-2.6,-3" class="t"/><ellipse cx="3.20" cy="0.00" rx="4.50" ry="7.80" class="w"/><ellipse cx="4.90" cy="0.20" rx="3.70" ry="6.30" class="w"/><path d="M6.5,-3.3 L19.2,-3.3 M6.5,3.8 L19.2,3.8"/><ellipse cx="8.00" cy="0.25" rx="2.60" ry="3.60" class="w"/><ellipse cx="11.03" cy="0.25" rx="2.60" ry="3.60" class="w"/><ellipse cx="14.05" cy="0.25" rx="2.60" ry="3.60" class="w"/><ellipse cx="17.07" cy="0.25" rx="2.60" ry="3.60" class="w"/><ellipse cx="19.20" cy="0.25" rx="2.60" ry="3.60" class="w"/></g>
<g transform="translate(759.00 183.60) rotate(0.0)"><ellipse cx="-2.00" cy="0.00" rx="6.30" ry="7.40" class="w"/><ellipse cx="0.00" cy="0.00" rx="6.30" ry="7.40" class="w"/><ellipse cx="0.20" cy="0.30" rx="3.15" ry="3.70"/></g>
<g transform="translate(827.2 122.5)"><ellipse cx="-1.20" cy="0.00" rx="6.20" ry="7.40" class="w"/><ellipse cx="0.00" cy="0.00" rx="6.20" ry="7.40" class="w"/><path d="M3.6,-2.6 A3.8,4.6 0 1 0 3.6,2.8 L0.6,0.6"/><path d="M-5.6,2.6 L3.6,-2.6" class="t"/></g>
<g transform="translate(847.00 134.60) rotate(0.0)"><ellipse cx="-2.00" cy="0.00" rx="6.80" ry="7.80" class="w"/><ellipse cx="0.00" cy="0.00" rx="6.80" ry="7.80" class="w"/><ellipse cx="0.20" cy="0.30" rx="3.40" ry="3.90"/></g>
<g transform="translate(875.3 147.5) rotate(32)"><path d="M0,-6.2 L-11.5,-6.2 A4.2,6.2 0 0 0 -11.5,6.2 L0,6.2" class="w"/><ellipse cx="0.00" cy="0.00" rx="4.40" ry="6.20" class="w"/><ellipse cx="0.30" cy="0.00" rx="2.40" ry="3.60"/></g>
<path d="M794.4,404 L808.8,385.6 L828,378.7 L841.6,391.2 L828,411.2 L808,417.6Z" class="w"/>
<path d="M808.8,385.6 L821.6,398.4 L841.6,391.2 M821.6,398.4 L808,417.6"/>
<ellipse cx="810.60" cy="400.00" rx="2.70" ry="5.20" transform="rotate(-20.0 810.60 400.00)"/>
<path d="M808.2,396.6 Q804.6,397.6 805.2,402.4"/>
<ellipse cx="819.20" cy="408.30" rx="2.60" ry="1.70" transform="rotate(-30.0 819.20 408.30)"/>
<path d="M764,392.8 L787.2,406.4 L808,401"/>
<g transform="translate(833.00 422.60) rotate(-38)"><ellipse cx="-1.00" cy="1.00" rx="9.40" ry="5.70" class="w"/><ellipse cx="0.00" cy="0.00" rx="9.40" ry="5.70" class="w"/><ellipse cx="0.00" cy="0.00" rx="5.60" ry="3.20"/><ellipse cx="0.60" cy="0.50" rx="3.80" ry="2.00" class="t"/></g>
<g transform="translate(846.00 435.60) rotate(-38)"><ellipse cx="-1.00" cy="1.00" rx="9.40" ry="5.70" class="w"/><ellipse cx="0.00" cy="0.00" rx="9.40" ry="5.70" class="w"/><ellipse cx="0.00" cy="0.00" rx="5.60" ry="3.20"/><ellipse cx="0.60" cy="0.50" rx="3.80" ry="2.00" class="t"/></g>
<g transform="translate(854.60 444.90) rotate(45.1)"><path d="M0,-3.2 L67.8,-3.2 L67.8,3.2 L0,3.2 A1.6,3.2 0 0 1 0,-3.2" class="w"/><path d="M2.2,-3.2 A1.9,3.2 0 0 1 2.2,3.2"/><path d="M5.0,-3.2 A1.9,3.2 0 0 1 5.0,3.2"/><path d="M7.7,-3.2 A1.9,3.2 0 0 1 7.7,3.2"/><path d="M10.4,-3.2 A1.9,3.2 0 0 1 10.4,3.2"/><path d="M13.2,-3.2 A1.9,3.2 0 0 1 13.2,3.2"/><path d="M15.9,-3.2 A1.9,3.2 0 0 1 15.9,3.2"/><path d="M18.7,-3.2 A1.9,3.2 0 0 1 18.7,3.2"/><path d="M21.4,-3.2 A1.9,3.2 0 0 1 21.4,3.2"/><path d="M24.2,-3.2 A1.9,3.2 0 0 1 24.2,3.2"/><path d="M26.9,-3.2 A1.9,3.2 0 0 1 26.9,3.2"/><path d="M29.7,-3.2 A1.9,3.2 0 0 1 29.7,3.2"/><path d="M32.5,-3.2 A1.9,3.2 0 0 1 32.5,3.2"/><path d="M35.2,-3.2 A1.9,3.2 0 0 1 35.2,3.2"/><path d="M38.0,-3.2 A1.9,3.2 0 0 1 38.0,3.2"/><path d="M40.7,-3.2 A1.9,3.2 0 0 1 40.7,3.2"/><path d="M43.5,-3.2 A1.9,3.2 0 0 1 43.5,3.2"/><path d="M46.2,-3.2 A1.9,3.2 0 0 1 46.2,3.2"/><path d="M49.0,-3.2 A1.9,3.2 0 0 1 49.0,3.2"/><path d="M51.7,-3.2 A1.9,3.2 0 0 1 51.7,3.2"/><path d="M54.5,-3.2 A1.9,3.2 0 0 1 54.5,3.2"/><path d="M57.2,-3.2 A1.9,3.2 0 0 1 57.2,3.2"/><path d="M60.0,-3.2 A1.9,3.2 0 0 1 60.0,3.2"/><path d="M62.7,-3.2 A1.9,3.2 0 0 1 62.7,3.2"/><path d="M67.3,-6 L73.3,-7.6 L79.3,-4 L79.3,4.2 L73.3,7.6 L67.3,6 Z" class="w"/><path d="M73.3,-7.6 L71.4,-2.6 L79.3,-4 M71.4,-2.6 L71.4,3 L73.3,7.6 M71.4,3 L79.3,4.2" class="t"/></g>
<path d="M861.90,499.30 C862.05,498.03 861.55,493.20 862.90,490.80 C864.25,488.40 868.81,484.50 870.90,483.30 C872.99,482.10 875.67,482.32 876.80,482.80 C877.92,483.28 878.49,484.99 878.40,486.50 C878.31,488.01 877.16,491.14 876.20,492.90 C875.24,494.65 873.03,497.40 872.00,498.20 C870.97,499.00 869.70,498.20 869.30,498.20"/>
<path d="M865.60,492.90 C866.39,491.94 869.62,487.30 870.90,486.50 C872.17,485.70 873.46,487.12 874.10,487.60 C874.75,488.08 875.52,488.74 875.20,489.70 C874.88,490.66 872.79,493.04 872.00,494.00 C871.21,494.96 870.22,495.79 869.90,496.10"/>
<path d="M861.9,499.3 L864.6,496.2 L865.6,492.9 M869.3,498.2 L869.9,496.1 M871.5,486.6 L873,489.4"/>
<!-- 45_compressor.py -->
<path d="M487.60,303.00 C490.48,304.17 502.12,307.56 506.80,310.80 C511.48,314.04 516.01,320.01 518.80,324.60 C521.59,329.19 524.32,336.18 525.40,341.40 C526.48,346.62 526.63,354.90 526.00,359.40 C525.37,363.90 522.73,368.70 521.20,371.40 C519.67,374.10 516.61,376.50 515.80,377.40"/>
<path d="M508.00,313.80 C509.44,316.68 515.80,327.24 517.60,333.00 C519.40,338.76 520.18,346.80 520.00,352.20 C519.82,357.60 516.94,366.48 516.40,369.00"/>
<path d="M506.80,324.60 C507.88,327.30 512.83,337.74 514.00,342.60 C515.17,347.46 514.78,352.68 514.60,357.00 C514.42,361.32 513.07,369.24 512.80,371.40"/>
<path d="M498.40,346.20 L512.80,342.60"/>
<path d="M506.80,357.00 L516.40,354.00"/>
<path d="M497.20,345.60 L497.80,353.40"/>
<path d="M466.00,336.60 C466.90,338.40 470.20,345.18 472.00,348.60 C473.80,352.02 477.10,357.78 478.00,359.40"/>
<path d="M460.00,339.00 C460.90,340.98 464.56,348.06 466.00,352.20 C467.44,356.34 468.97,363.18 469.60,366.60 C470.23,370.02 470.11,373.74 470.20,375.00"/>
<path d="M476.80,333.00 C477.70,335.16 481.54,343.62 482.80,347.40 C484.06,351.18 484.84,356.58 485.20,358.20"/>
<path d="M486.40,333.00 C487.30,335.16 491.32,344.16 492.40,347.40 C493.48,350.64 493.42,353.52 493.60,354.60"/>
<path d="M488.80,324.60 C489.70,326.58 493.45,334.38 494.80,337.80 C496.15,341.22 497.35,345.96 497.80,347.40"/>
<path d="M466.00,355.20 L472.00,353.40"/>
<path d="M464.80,367.80 L473.20,365.40"/>
<path d="M435.40,326.40 L435.40,317.40 L446.80,313.56 L452.80,317.16"/>
<path d="M435.40,317.40 L444.40,325.20 L452.80,321.00"/>
<path d="M444.40,325.20 L443.80,333.00"/>
<path d="M435.40,326.40 L443.20,333.00"/>
<path d="M441.40,321.00 L448.00,318.60 L450.40,321.00" class="t"/>
<path d="M452.80,313.80 L452.80,310.80 L460.00,307.20 L464.20,309.00 L471.40,296.40 L475.60,294.36 L478.00,295.56 L485.80,300.60 L486.64,313.80 L488.80,315.60 L469.60,321.00Z" class="w"/>
<path d="M452.80,313.80 L454.00,316.44 L468.40,323.64 L487.60,317.64 L488.80,315.60"/>
<path d="M462.40,310.80 L466.00,303.00 L469.60,301.80 L471.04,311.64"/>
<path d="M466.00,303.00 L471.40,296.40"/>
<path d="M469.60,301.80 L474.40,303.00 L476.20,313.80"/>
<path d="M474.40,303.00 L478.00,298.20 L482.80,301.80 L483.40,313.20"/>
<path d="M478.00,295.56 L478.00,298.20"/>
<path d="M460.00,307.20 L461.44,311.64 L469.60,316.44 L486.64,311.64"/>
<path d="M461.44,311.64 L454.00,314.40" class="t"/>
<path d="M469.00,318.36 L472.00,317.64 L472.72,320.04 L469.72,320.76Z" class="t"/>
<path d="M454.60,309.00 L457.84,307.80 L458.56,310.20 L455.32,311.40Z" class="t"/>
<path d="M469.60,326.40 L469.60,335.40 L475.60,337.20 L476.20,328.20"/>
<path d="M481.60,323.64 L482.80,331.80 L488.80,333.00 L489.40,324.60"/>
<path d="M485.80,300.60 L487.60,303.00"/>
<path d="M473.60,361.48 L492.80,355.40 L492.80,353.00 L504.80,352.20 L504.80,361.00 L498.40,364.20 L497.60,369.80 L485.60,373.80 L485.60,368.20 L474.40,369.80Z" class="w"/>
<path d="M466.40,387.40 L476.00,377.80 L495.20,385.80"/>
<path d="M476.00,377.80 L477.92,373.96"/>
<ellipse cx="440.20" cy="365.60" rx="23.00" ry="38.60" transform="rotate(4.0 440.20 365.60)" class="w"/>
<ellipse cx="437.00" cy="365.60" rx="23.00" ry="38.60" transform="rotate(4.0 437.00 365.60)" class="w"/>
<ellipse cx="432.20" cy="365.60" rx="23.00" ry="38.60" transform="rotate(4.0 432.20 365.60)" class="w"/>
<ellipse cx="428.20" cy="365.60" rx="23.00" ry="38.60" transform="rotate(4.0 428.20 365.60)" class="w"/>
<ellipse cx="424.20" cy="365.60" rx="23.00" ry="38.60" transform="rotate(4.0 424.20 365.60)" class="w"/>
<ellipse cx="419.40" cy="365.60" rx="23.00" ry="38.60" transform="rotate(4.0 419.40 365.60)" class="w"/>
<path d="M412.00,326.60 C414.13,326.64 424.37,326.28 428.00,326.92 C431.63,327.56 436.64,330.33 439.20,331.40 C441.76,332.47 445.39,333.85 447.20,334.92 C449.01,335.99 452.05,338.80 452.80,339.40"/>
<path d="M414.40,404.20 C416.85,403.71 428.43,401.69 432.80,400.52 C437.17,399.35 444.21,396.94 447.20,395.40 C450.19,393.86 454.13,389.85 455.20,389.00"/>
<ellipse cx="413.00" cy="365.40" rx="23.00" ry="38.80" transform="rotate(4.0 413.00 365.40)" class="w"/>
<ellipse cx="412.00" cy="365.60" rx="19.20" ry="34.40" transform="rotate(4.0 412.00 365.60)"/>
<ellipse cx="411.20" cy="366.00" rx="14.40" ry="26.40" transform="rotate(4.0 411.20 366.00)"/>
<ellipse cx="410.00" cy="366.40" rx="10.80" ry="21.60" transform="rotate(4.0 410.00 366.40)"/>
<ellipse cx="409.30" cy="366.20" rx="16.80" ry="30.40" transform="rotate(4.0 409.30 366.20)"/>
<ellipse cx="404.80" cy="369.00" rx="3.50" ry="4.50"/>
<ellipse cx="404.80" cy="369.40" rx="1.70" ry="2.00"/>
<path d="M406.5,362 l3.5,-1 l1,3 l-3.5,1z M408,367.5 l3.5,-1 l1,3.4 l-3.5,1z M407,373 l3,-0.6 l0.8,3 l-3,0.8z" class="t"/>
<path d="M404.00,365.00 L410.40,360.20 L412.00,365.00M410.40,360.20 L412.00,372.20" class="t"/>
<ellipse cx="412.80" cy="340.20" rx="1.50" ry="1.90"/>
<ellipse cx="428.00" cy="378.60" rx="1.50" ry="1.90"/>
<path d="M454.00,327.00 C455.12,325.81 462.80,324.57 464.20,325.20 C465.60,325.83 466.42,330.86 466.00,332.40 C465.58,333.94 461.93,338.05 460.60,338.40 C459.27,338.75 455.37,336.73 454.60,335.40 C453.83,334.07 452.88,328.19 454.00,327.00Z" class="w"/>
<ellipse cx="459.64" cy="331.56" rx="2.10" ry="2.50" transform="rotate(15.0 459.64 331.56)"/>
<path d="M495.40,316.80 C496.52,315.47 504.13,312.71 505.60,313.20 C507.07,313.69 508.42,319.46 508.00,321.00 C507.58,322.54 503.40,325.98 502.00,326.40 C500.60,326.82 496.77,325.72 496.00,324.60 C495.23,323.48 494.28,318.13 495.40,316.80Z" class="w"/>
<ellipse cx="501.64" cy="320.40" rx="2.10" ry="2.50" transform="rotate(15.0 501.64 320.40)"/>
<path d="M497.60,375.40 C498.87,374.13 505.15,373.76 506.40,374.60 C507.65,375.44 508.69,381.07 508.32,382.60 C507.95,384.13 504.69,387.38 503.20,387.72 C501.71,388.06 496.17,386.92 495.52,385.48 C494.87,384.04 496.33,376.67 497.60,375.40Z" class="w"/>
<ellipse cx="502.40" cy="380.68" rx="2.10" ry="2.50" transform="rotate(15.0 502.40 380.68)"/>
<path d="M455.20,389.00 C456.62,388.03 464.98,386.33 466.40,387.08 C467.82,387.83 468.11,394.02 467.36,395.40 C466.61,396.78 461.53,398.92 460.00,398.92 C458.47,398.92 454.80,396.56 454.24,395.40 C453.68,394.24 453.78,389.97 455.20,389.00Z" class="w"/>
<ellipse cx="460.80" cy="391.88" rx="2.10" ry="2.50" transform="rotate(15.0 460.80 391.88)"/>
<g transform="translate(485.2 406.6) rotate(32)"><path d="M0,-5.6 L-10.5,-5.6 A3.6,5.6 0 0 0 -10.5,5.6 L0,5.6" class="w"/><ellipse cx="0.00" cy="0.00" rx="3.80" ry="5.60" class="w"/><ellipse cx="0.20" cy="0.20" rx="1.60" ry="2.20"/></g>
<path d="M462,393 L473,399.5"/>
<g transform="translate(512.70 423.30) rotate(0.0)"><path d="M-10.40,-1.04 C-10.37,-1.60 -9.28,-3.22 -8.84,-3.85 C-8.40,-4.47 -5.40,-8.95 -4.47,-9.36 C-3.54,-9.77 2.73,-9.53 3.54,-9.36 C4.34,-9.19 5.73,-7.66 6.24,-7.07 C6.75,-6.48 10.09,-2.26 10.40,-1.46 C10.71,-0.65 10.65,2.95 10.40,3.64 C10.15,4.33 7.65,7.21 7.07,7.70 C6.49,8.18 3.62,10.09 2.70,10.09 C1.78,10.09 -4.30,8.18 -5.20,7.70 C-6.10,7.21 -8.87,4.30 -9.26,3.64 C-9.65,2.98 -10.43,-0.48 -10.40,-1.04Z" class="w"/><path d="M-4.47,-9.36 L-2.50,-7.07 L4.68,-7.07 L3.54,-9.36"/><path d="M-2.50,-7.07 L-4.89,-0.31 L-4.47,6.86"/><path d="M-10.40,-1.04 L-4.89,1.25"/><path d="M-1.04,-5.72 C-1.21,-4.77 -1.98,-1.91 -2.08,0.00 C-2.18,1.91 -1.73,4.77 -1.66,5.72"/><ellipse cx="4.26" cy="2.08" rx="5.93" ry="7.59" class="w"/><ellipse cx="4.06" cy="2.08" rx="3.12" ry="3.64"/></g>
<!-- 50_pulleys.py -->
<path d="M685,435 L662.5,440"/>
<ellipse cx="661.98" cy="444.21" rx="2.90" ry="4.80" transform="rotate(-5.0 661.98 444.21)" class="w"/><ellipse cx="645.08" cy="446.21" rx="15.58" ry="27.36" transform="rotate(-5.0 645.08 446.21)" class="w"/><ellipse cx="642.66" cy="446.82" rx="15.58" ry="27.36" transform="rotate(-5.0 642.66 446.82)" class="w"/><ellipse cx="639.45" cy="447.61" rx="15.74" ry="27.65" transform="rotate(-5.0 639.45 447.61)" class="w"/><ellipse cx="637.13" cy="448.20" rx="15.91" ry="27.94" transform="rotate(-5.0 637.13 448.20)" class="w"/><ellipse cx="634.70" cy="448.80" rx="16.40" ry="28.80" transform="rotate(-5.0 634.70 448.80)" class="w"/><ellipse cx="634.20" cy="448.80" rx="9.50" ry="18.50" transform="rotate(-5.0 634.20 448.80)"/><ellipse cx="633.90" cy="448.80" rx="7.00" ry="14.00" transform="rotate(-5.0 633.90 448.80)"/><ellipse cx="633.70" cy="448.80" rx="5.00" ry="10.00" transform="rotate(-5.0 633.70 448.80)"/><ellipse cx="633.70" cy="448.60" rx="3.00" ry="6.20" transform="rotate(-5.0 633.70 448.60)"/><ellipse cx="633.80" cy="448.50" rx="1.50" ry="3.00" transform="rotate(-5.0 633.80 448.50)"/>
<ellipse cx="750.91" cy="460.21" rx="2.90" ry="4.80" transform="rotate(-7.0 750.91 460.21)" class="w"/><ellipse cx="734.41" cy="462.21" rx="16.00" ry="27.80" transform="rotate(-7.0 734.41 462.21)" class="w"/><ellipse cx="731.19" cy="462.96" rx="16.00" ry="27.80" transform="rotate(-7.0 731.19 462.96)" class="w"/><ellipse cx="727.97" cy="463.70" rx="16.00" ry="27.80" transform="rotate(-7.0 727.97 463.70)" class="w"/><ellipse cx="725.64" cy="464.24" rx="16.00" ry="27.80" transform="rotate(-7.0 725.64 464.24)" class="w"/><ellipse cx="723.20" cy="464.80" rx="16.00" ry="27.80" transform="rotate(-7.0 723.20 464.80)" class="w"/><ellipse cx="722.70" cy="465.30" rx="13.50" ry="24.00" transform="rotate(-7.0 722.70 465.30)"/><ellipse cx="723.20" cy="465.80" rx="10.50" ry="18.60" transform="rotate(-7.0 723.20 465.80)"/><ellipse cx="724.00" cy="466.00" rx="7.50" ry="13.20" transform="rotate(-7.0 724.00 466.00)"/><ellipse cx="725.40" cy="465.80" rx="3.00" ry="6.00" transform="rotate(-7.0 725.40 465.80)"/>
<ellipse cx="676.58" cy="526.06" rx="3.00" ry="5.20" transform="rotate(-10.0 676.58 526.06)" class="w"/><ellipse cx="661.08" cy="528.06" rx="15.00" ry="28.10" transform="rotate(-10.0 661.08 528.06)" class="w"/><ellipse cx="658.86" cy="528.66" rx="15.00" ry="28.10" transform="rotate(-10.0 658.86 528.66)" class="w"/><path d="M654.03,503.00 L643.50,505.82 L652.58,557.29 L663.11,554.47 Z" style="fill:#fff;stroke:none"/><path d="M654.03,503.00 L643.50,505.82 M663.11,554.47 L652.58,557.29"/><ellipse cx="648.04" cy="531.56" rx="15.00" ry="28.10" transform="rotate(-10.0 648.04 531.56)" class="w"/><ellipse cx="645.82" cy="532.15" rx="15.00" ry="28.10" transform="rotate(-10.0 645.82 532.15)" class="w"/><path d="M640.99,506.49 L632.20,508.85 L641.28,560.32 L650.07,557.96 Z" style="fill:#fff;stroke:none"/><path d="M640.99,506.49 L632.20,508.85 M650.07,557.96 L641.28,560.32"/><ellipse cx="636.74" cy="534.58" rx="15.00" ry="28.10" transform="rotate(-10.0 636.74 534.58)" class="w"/><ellipse cx="635.00" cy="535.05" rx="15.00" ry="28.10" transform="rotate(-10.0 635.00 535.05)" class="w"/><path d="M630.17,509.39 L627.66,510.06 L636.74,561.54 L639.25,560.86 Z" style="fill:#fff;stroke:none"/><path d="M630.17,509.39 L627.66,510.06 M639.25,560.86 L636.74,561.54"/><ellipse cx="632.20" cy="535.80" rx="15.00" ry="28.10" transform="rotate(-10.0 632.20 535.80)" class="w"/><ellipse cx="631.90" cy="536.30" rx="12.60" ry="24.60" transform="rotate(-10.0 631.90 536.30)"/><ellipse cx="631.40" cy="536.80" rx="10.00" ry="19.60" transform="rotate(-10.0 631.40 536.80)"/><ellipse cx="631.40" cy="537.00" rx="7.00" ry="13.50" transform="rotate(-10.0 631.40 537.00)"/><ellipse cx="631.70" cy="537.00" rx="3.20" ry="6.40" transform="rotate(-10.0 631.70 537.00)"/>
<ellipse cx="826.53" cy="557.68" rx="2.90" ry="5.00" transform="rotate(-9.5 826.53 557.68)" class="w"/><ellipse cx="810.13" cy="559.68" rx="15.90" ry="28.90" transform="rotate(-9.5 810.13 559.68)" class="w"/><ellipse cx="807.29" cy="560.29" rx="15.90" ry="28.90" transform="rotate(-9.5 807.29 560.29)" class="w"/><path d="M802.56,533.84 L793.85,535.69 L802.73,588.71 L811.43,586.86 Z" style="fill:#fff;stroke:none"/><path d="M802.56,533.84 L793.85,535.69 M811.43,586.86 L802.73,588.71"/><ellipse cx="798.29" cy="562.20" rx="15.90" ry="28.90" transform="rotate(-9.5 798.29 562.20)" class="w"/><ellipse cx="796.04" cy="562.68" rx="15.90" ry="28.90" transform="rotate(-9.5 796.04 562.68)" class="w"/><path d="M791.31,536.23 L780.65,538.50 L789.52,591.51 L800.18,589.25 Z" style="fill:#fff;stroke:none"/><path d="M791.31,536.23 L780.65,538.50 M800.18,589.25 L789.52,591.51"/><ellipse cx="785.09" cy="565.01" rx="15.90" ry="28.90" transform="rotate(-9.5 785.09 565.01)" class="w"/><ellipse cx="783.52" cy="565.34" rx="15.90" ry="28.90" transform="rotate(-9.5 783.52 565.34)" class="w"/><path d="M778.79,538.89 L769.50,540.87 L778.37,593.88 L787.66,591.91 Z" style="fill:#fff;stroke:none"/><path d="M778.79,538.89 L769.50,540.87 M787.66,591.91 L778.37,593.88"/><ellipse cx="773.93" cy="567.38" rx="15.90" ry="28.90" transform="rotate(-9.5 773.93 567.38)" class="w"/><path d="M769.21,540.93 L766.56,541.49 L775.44,594.51 L778.08,593.95 Z" style="fill:#fff;stroke:none"/><path d="M769.21,540.93 L766.56,541.49 M778.08,593.95 L775.44,594.51"/><ellipse cx="771.00" cy="568.00" rx="15.90" ry="28.90" transform="rotate(-9.5 771.00 568.00)" class="w"/><ellipse cx="770.40" cy="568.40" rx="12.60" ry="24.40" transform="rotate(-9.5 770.40 568.40)"/><ellipse cx="771.20" cy="568.40" rx="10.00" ry="19.20" transform="rotate(-9.5 771.20 568.40)"/><ellipse cx="772.80" cy="568.00" rx="7.00" ry="14.00" transform="rotate(-9.5 772.80 568.00)"/><ellipse cx="775.80" cy="567.00" rx="3.20" ry="6.40" transform="rotate(-9.5 775.80 567.00)"/>
<g transform="translate(512.6 482.6) rotate(-14)"><path d="M-7,-3.2 L-5.4,-7.6 L-0.6,-9 L3.2,-6.6 L4,4.4 L1,8.6 L-3.8,8.4 L-7,4.4Z" class="w"/><path d="M-5.4,-7.6 L-2.8,-3.2 L-2.2,4.6 L-3.8,8.4 M-2.8,-3.2 L3.4,-5 M-2.2,4.6 L3.8,3.6 M-7,-3.2 L-2.8,-3.2"/><path d="M4,-3.4 L20,-3.4 Q22.4,0 20,3.6 L4,3.6" class="w"/><path d="M7.5,-3.4 Q9.3,0 7.5,3.6"/><path d="M11.0,-3.4 Q12.8,0 11.0,3.6"/><path d="M14.5,-3.4 Q16.3,0 14.5,3.6"/><path d="M18.0,-3.4 Q19.8,0 18.0,3.6"/></g>
<g transform="translate(548.20 472.60) rotate(-8.0)"><ellipse cx="-1.20" cy="0.00" rx="6.00" ry="8.30" class="w"/><ellipse cx="0.00" cy="0.00" rx="6.00" ry="8.30" class="w"/><ellipse cx="0.20" cy="0.30" rx="3.00" ry="4.15"/></g>
<g transform="translate(569.6 467.3)"><ellipse cx="3.40" cy="-0.80" rx="9.20" ry="13.80" transform="rotate(-8.0 3.40 -0.80)" class="w"/><ellipse cx="0.00" cy="0.00" rx="9.20" ry="13.80" transform="rotate(-8.0 0.00 0.00)" class="w"/><ellipse cx="0.40" cy="0.00" rx="5.60" ry="10.00" transform="rotate(-8.0 0.40 0.00)"/><ellipse cx="1.80" cy="-0.30" rx="4.40" ry="8.60" transform="rotate(-8.0 1.80 -0.30)"/><path d="M-1.6,-7.6 Q1,0 -1,7.6" class="t"/></g>
<g transform="translate(596.2 459.5)"><ellipse cx="9.00" cy="-2.20" rx="3.60" ry="6.80" transform="rotate(-8.0 9.00 -2.20)" class="w"/><path d="M4,-8.6 L9,-9 M4,7.6 L9.4,4.6"/><ellipse cx="5.50" cy="-1.20" rx="4.60" ry="8.60" transform="rotate(-8.0 5.50 -1.20)" class="w"/><ellipse cx="2.60" cy="-0.60" rx="5.20" ry="9.60" transform="rotate(-8.0 2.60 -0.60)" class="w"/><ellipse cx="0.00" cy="0.00" rx="5.60" ry="10.00" transform="rotate(-8.0 0.00 0.00)" class="w"/><ellipse cx="-0.60" cy="0.20" rx="3.00" ry="5.20" transform="rotate(-8.0 -0.60 0.20)"/><ellipse cx="-0.40" cy="0.30" rx="1.40" ry="2.60" transform="rotate(-8.0 -0.40 0.30)" class="t"/></g>
<g transform="translate(698 587)"><ellipse cx="0.00" cy="0.00" rx="9.40" ry="16.00" transform="rotate(-17.0 0.00 0.00)" class="w"/><ellipse cx="0.30" cy="0.00" rx="8.00" ry="14.40" transform="rotate(-17.0 0.30 0.00)"/><ellipse cx="1.80" cy="0.20" rx="6.40" ry="12.20" transform="rotate(-17.0 1.80 0.20)"/></g>
<ellipse cx="714.60" cy="582.60" rx="3.40" ry="7.60" transform="rotate(-17.0 714.60 582.60)"/>
<g transform="translate(726.6 578.6)"><ellipse cx="2.00" cy="-0.40" rx="6.60" ry="8.80" transform="rotate(-10.0 2.00 -0.40)" class="w"/><ellipse cx="0.00" cy="0.00" rx="6.60" ry="8.80" transform="rotate(-10.0 0.00 0.00)" class="w"/><ellipse cx="0.20" cy="0.00" rx="3.80" ry="5.40" transform="rotate(-10.0 0.20 0.00)"/><ellipse cx="0.50" cy="0.00" rx="2.00" ry="3.00" transform="rotate(-10.0 0.50 0.00)" class="t"/></g>
<!-- 80_closek.py -->
</g>
<!-- 90_labels.py -->
<defs><filter id="nf" x="0" y="0" width="1024" height="750" filterUnits="userSpaceOnUse"><feOffset dx="0" dy="0"/></filter></defs><g class="lb" filter="url(#nf)">
<text x="148.25" y="140.60">460</text>
<text x="148.25" y="154.90">600</text>
<text x="317.45" y="220.90">530</text>
<text x="245.70" y="264.65">540</text>
<text x="296.95" y="288.40">550</text>
<text x="345.70" y="279.15">520</text>
<text x="425.70" y="299.40">350</text>
<text x="189.45" y="325.40">110</text>
<text x="164.95" y="365.90">140</text>
<text x="245.70" y="377.90">100</text>
<text x="298.20" y="382.40">120</text>
<text x="85.70" y="401.65">150</text>
<text x="118.20" y="417.15">160</text>
<text x="155.70" y="457.90">130</text>
<text x="208.95" y="468.40">170</text>
<text x="223.95" y="505.90">90</text>
<text x="436.45" y="424.90">470</text>
<text x="526.45" y="427.40">560</text>
<text x="579.95" y="441.65">230</text>
<text x="522.45" y="457.90">330</text>
<text x="664.95" y="468.40">180</text>
<text x="559.45" y="500.90">220</text>
<text x="494.45" y="509.65">320</text>
<text x="673.20" y="510.40">200</text>
<text x="675.95" y="564.90">300</text>
<text x="712.95" y="562.90">240</text>
<text x="711.20" y="608.65">310</text>
<text x="766.45" y="524.40">210</text>
<text x="749.45" y="444.15">190</text>
<text x="838.95" y="380.90">250</text>
<text x="844.95" y="415.40">280</text>
<text x="857.45" y="434.65">270</text>
<text x="892.70" y="469.65">260</text>
<text x="843.95" y="518.90">290</text>
<text x="509.45" y="169.65">500</text>
<text x="563.05" y="249.15">490</text>
<text x="514.45" y="282.40">480</text>
<text x="644.95" y="117.40">70</text>
<text x="648.20" y="140.40">80</text>
<text x="795.45" y="89.90">730</text>
<text x="709.95" y="152.90">730</text>
<text x="749.95" y="168.40">750</text>
<text x="797.95" y="201.15">700</text>
<text x="820.45" y="108.40">30</text>
<text x="845.20" y="119.90">40</text>
<text x="872.45" y="130.90">20</text>
<text x="914.95" y="193.65">710</text>
<text x="839.45" y="259.15">60</text>
<text x="891.20" y="270.40">50</text>
<text x="752.45" y="298.40">10</text>
</g>
<!-- 95_wm.py -->
<g class="wm" opacity="0.8">
<text transform="translate(448.11 105.35) rotate(29.70)" textLength="381" lengthAdjust="spacing">truckmall.ru epc catalog</text>
<text transform="translate(61.11 -114.25) rotate(29.70)" textLength="381" lengthAdjust="spacing">truckmall.ru epc catalog</text>
<text transform="translate(835.61 327.95) rotate(29.70)" textLength="381" lengthAdjust="spacing">truckmall.ru epc catalog</text>
<text transform="translate(229.41 491.95) rotate(29.70)" textLength="381" lengthAdjust="spacing">truckmall.ru epc catalog</text>
<text transform="translate(-163.59 270.35) rotate(29.70)" textLength="381" lengthAdjust="spacing">truckmall.ru epc catalog</text>
<text transform="translate(610.71 717.85) rotate(29.70)" textLength="381" lengthAdjust="spacing">truckmall.ru epc catalog</text>
</g>
<!-- 97_logo.py -->
<defs><path id="lgarc" d="M874.18,729.50 A64.20,64.20 0 0 1 1000.62,730.60"/></defs>
<g id="logo">
<ellipse cx="937" cy="731.2" rx="44.5" ry="7.2" fill="none" stroke="#dcdcd5" stroke-width="2.4"/>
<ellipse cx="941" cy="732.5" rx="36" ry="4.4" fill="none" stroke="#e2e2dc" stroke-width="1.8"/>
<g transform="translate(951.3 710.4) rotate(24) scale(1.06)"><path d="M26.17,-2.57 L32.82,-2.14 L32.82,2.14 L26.17,2.57 L24.74,5.89 L30.15,8.32 L26.70,12.03 L20.59,10.34 L16.68,12.77 L19.40,16.55 L13.42,18.69 L9.50,15.34 L4.15,16.23 L3.45,20.35 L-3.45,20.35 L-4.15,16.23 L-9.50,15.34 L-13.42,18.69 L-19.40,16.55 L-16.68,12.77 L-20.59,10.34 L-26.70,12.03 L-30.15,8.32 L-24.74,5.89 L-26.17,2.57 L-32.82,2.14 L-32.82,-2.14 L-26.17,-2.57 L-24.74,-5.89 L-30.15,-8.32 L-26.70,-12.03 L-20.59,-10.34 L-16.68,-12.77 L-19.40,-16.55 L-13.42,-18.69 L-9.50,-15.34 L-4.15,-16.23 L-3.45,-20.35 L3.45,-20.35 L4.15,-16.23 L9.50,-15.34 L13.42,-18.69 L19.40,-16.55 L16.68,-12.77 L20.59,-10.34 L26.70,-12.03 L30.15,-8.32 L24.74,-5.89Z M16,0 A16,9 0 1 0 -16,0 A16,9 0 1 0 16,0Z" fill="#e97f97" fill-rule="evenodd"/></g>
<path d="M918,684 C898,690 896,712 916,722 C935,731 958,731 975,727 C955,735 925,735 906,724 C890,712 894,690 918,684Z" fill="#fff"/>
<path d="M918.5,685 C902,689 899,705 912,716 C928,728 955,729 975,726.5 C952,727 932,722 920,712 C908,702 908,690 918.5,685Z" fill="#e97f97"/>
<path d="M901,708 C903,720 925,731 966,729.5 C935,735 903,728 901,717Z" fill="#e97f97"/>
<text style="text-rendering:geometricPrecision" font-family="Liberation Sans, sans-serif" font-size="17.5" fill="#7d7d7d"><textPath href="#lgarc" textLength="179.3" lengthAdjust="spacing"><tspan>TRUCKMALL</tspan><tspan fill="#ea7d96">PARTS</tspan></textPath></text>
</g>
</svg>
</body></html>
